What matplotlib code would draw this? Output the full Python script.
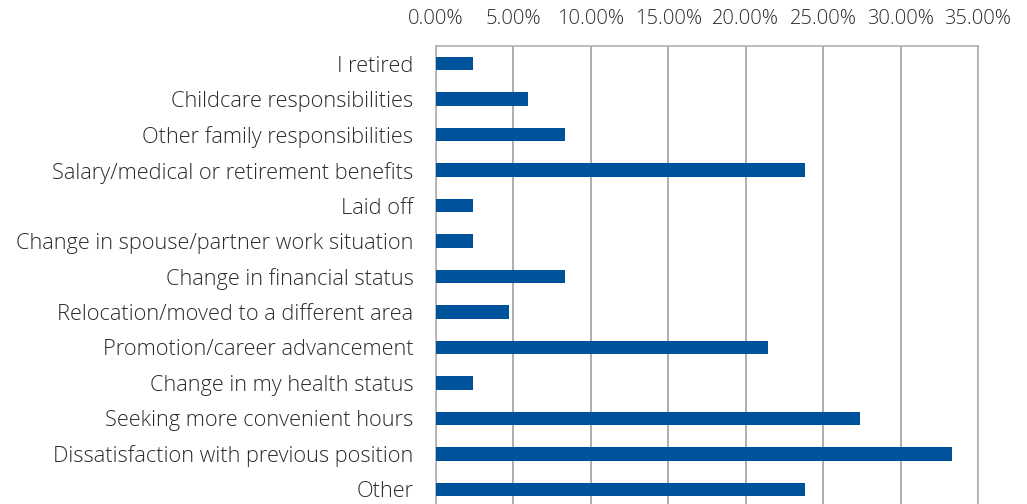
import matplotlib
matplotlib.use("Agg")
import matplotlib.pyplot as plt
from matplotlib.ticker import PercentFormatter

plt.rcParams['font.family'] = ['Open Sans', 'DejaVu Sans']

reasons = [
    "I retired",
    "Childcare responsibilities",
    "Other family responsibilities",
    "Salary/medical or retirement benefits",
    "Laid off",
    "Change in spouse/partner work situation",
    "Change in financial status",
    "Relocation/moved to a different area",
    "Promotion/career advancement",
    "Change in my health status",
    "Seeking more convenient hours",
    "Dissatisfaction with previous position",
    "Other",
]
shares = [2.38, 5.95, 8.33, 23.81, 2.38, 2.38, 8.33, 4.76, 21.43, 2.38, 27.38, 33.33, 23.81]
xticks = [0, 5, 10, 15, 20, 25, 30, 35]

fig = plt.figure(figsize=(10.27, 5.04), dpi=100)
ax = fig.add_axes([435.7 / 1027, 1 - 507 / 504, (978 - 435.7) / 1027, 461 / 504])

pos = list(range(len(reasons)))
ax.barh(pos, shares, height=0.38, color="#00529b", zorder=3)

ax.set_ylim(len(reasons) - 0.5, -0.5)
ax.set_xlim(0, 35)
ax.set_yticks(pos)
ax.set_yticklabels(reasons)
ax.set_xticks(xticks)
ax.xaxis.set_major_formatter(PercentFormatter(decimals=2))
ax.xaxis.tick_top()
ax.tick_params(axis="both", length=0, colors="#2b2b2b")
ax.tick_params(axis="y", pad=16, labelsize=15.7)
ax.tick_params(axis="x", pad=12, labelsize=14.5)
for lbl in ax.get_xticklabels() + ax.get_yticklabels():
    lbl.set_fontweight("light")
ax.grid(axis="x", color="#a0a0a0", linewidth=1.2, zorder=0)
for side in ["left", "top", "right"]:
    ax.spines[side].set_color("#b0b0b0")
    ax.spines[side].set_linewidth(1.2)
ax.spines["bottom"].set_visible(False)

fig.savefig("out.png", dpi=100)
